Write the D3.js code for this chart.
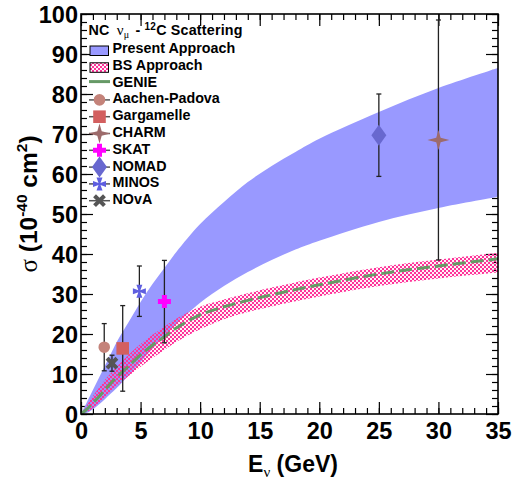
<!DOCTYPE html>
<html>
<head>
<meta charset="utf-8">
<script src="https://cdn.jsdelivr.net/npm/d3@7"></script>
<style>
  html, body { margin: 0; padding: 0; background: #fff; }
  svg { display: block; }
  text { font-family: "Liberation Sans", Arial, sans-serif; font-weight: bold; fill: #000; }
  .sym { font-family: "Liberation Serif", "DejaVu Serif", serif; font-weight: normal; }
</style>
</head>
<body>
<svg id="chart" width="514" height="484"></svg>
<script>
// Theory curves sampled on a common energy grid (GeV), cross sections in 1e-40 cm^2
const energyGrid   = [0, 0.5, 1, 1.5, 2, 2.5, 3, 4, 5, 6, 7, 8, 10, 12, 14, 16, 18, 20, 25, 30, 35];
const presentUpper = [0, 3, 6, 9, 12, 15, 18, 23, 28, 32.5, 36.5, 40.5, 47.5, 53, 58, 62, 65.5, 68.8, 75.5, 81.5, 86.5];
const presentLower = [0, 0.3, 1.2, 2.4, 3.7, 5.1, 6.5, 9.7, 13, 16.3, 19.5, 22.5, 27.8, 32, 35.5, 38.5, 41.1, 43.3, 48, 51.5, 54.3];
const bsUpper      = [0, 2.2, 4.5, 6.5, 8.5, 10.2, 11.8, 14.8, 17.5, 19.8, 21.8, 23.8, 26.8, 28.6, 30.2, 31.6, 32.9, 34.1, 36.7, 38.6, 40.3];
const bsLower      = [0, 0.5, 1.5, 2.8, 4.2, 5.6, 7, 9.5, 11.8, 14, 16, 18, 21.2, 23.7, 25.5, 26.9, 28.2, 29.4, 32, 33.9, 35.4];
const genieSigma   = [0, 1.2, 2.8, 4.3, 6, 7.7, 9.2, 12, 14.8, 17.2, 19.3, 21.5, 24.8, 26.8, 28.4, 29.8, 31.1, 32.3, 35, 37, 38.8];

// Measurements
const expNames  = ["Aachen-Padova", "Gargamelle", "CHARM", "SKAT", "NOMAD", "MINOS", "NOvA"];
const expEnergy = [1.95, 3.5, 30, 7, 25, 4.9, 2.6];
const expSigma  = [16.7, 16.4, 68.5, 28.1, 69.7, 30.7, 12.7];
const expError  = [5.9, 10.7, 30, 10.3, 10.3, 6.3, 2.0];

// Axis ticks
const xMajorTicks = [0, 5, 10, 15, 20, 25, 30, 35];
const yMajorTicks = [0, 10, 20, 30, 40, 50, 60, 70, 80, 90, 100];
const xMinorTicks = d3.range(0, 35.01, 1);
const yMinorTicks = d3.range(0, 100.01, 2);

const svg = d3.select("#chart");
const L = 81, R = 498, T = 14, B = 414;

const x = d3.scaleLinear().domain([0, 35]).range([L, R]);
const y = d3.scaleLinear().domain([0, 100]).range([B, T]);

// Marker styles
const markerStyle = {
  "Aachen-Padova": { color: "#c4837a", shape: "circle" },
  "Gargamelle":    { color: "#d35f5f", shape: "square" },
  "CHARM":         { color: "#9d6b6b", shape: "star4" },
  "SKAT":          { color: "#ff00ff", shape: "plus" },
  "NOMAD":         { color: "#6868cf", shape: "diamond" },
  "MINOS":         { color: "#5f5fe0", shape: "maltese" },
  "NOvA":          { color: "#555555", shape: "xcross" }
};

function markerPath(shape) {
  switch (shape) {
    case "circle":  return d3.symbol(d3.symbolCircle, 105)();
    case "square":  return "M-6.3,-6.3H6.3V6.3H-6.3Z";
    case "star4":   return "M0,-10L2.2,-2.2L11,0L2.2,2.2L0,10L-2.2,2.2L-11,0L-2.2,-2.2Z";
    case "plus":    return "M-2.5,-6.5H2.5V-2.5H6.5V2.5H2.5V6.5H-2.5V2.5H-6.5V-2.5H-2.5Z";
    case "diamond": return "M0,-10.5L7.5,0L0,10.5L-7.5,0Z";
    case "maltese": return "M-1,-1L-3,-6.5L3,-6.5L1,-1L6.5,-3L6.5,3L1,1L3,6.5L-3,6.5L-1,1L-6.5,3L-6.5,-3Z";
    case "xcross":  return "M-2,-7H2V-2H7V2H2V7H-2V2H-7V-2H-2Z";
  }
}
function markerTransform(shape, cx, cy) {
  return shape === "xcross" ? `translate(${cx},${cy}) rotate(45)` : `translate(${cx},${cy})`;
}

// Checkered fill for the BS band
const defs = svg.append("defs");
const pat = defs.append("pattern")
  .attr("id", "bsHatch").attr("patternUnits", "userSpaceOnUse")
  .attr("width", 4).attr("height", 4);
pat.append("path")
  .attr("d", "M0,0H4V4H0Z M0,0H2V2H0Z M2,2H4V4H2Z")
  .attr("fill-rule", "evenodd")
  .attr("fill", "#ff3399");
pat.append("path")
  .attr("d", "M0.6,0.6H1.4V1.4H0.6Z M2.6,2.6H3.4V3.4H2.6Z")
  .attr("fill", "#ff3399").attr("opacity", 0.35);

defs.append("clipPath").attr("id", "plotClip")
  .append("rect").attr("x", L).attr("y", T).attr("width", R - L).attr("height", B - T);

// Ticks (drawn first so the bands cover them)
const axes = svg.append("g");
function tickAxis(axisFn, scale, ticks, size, labels, pad) {
  return axisFn(scale).tickValues(ticks).tickSize(size).tickSizeOuter(0)
    .tickPadding(pad || 0).tickFormat(labels ? d3.format("d") : "");
}
const xAxisG = axes.append("g").attr("transform", `translate(0,${B})`)
  .call(tickAxis(d3.axisBottom, x, xMajorTicks, -12, true, 8));
axes.append("g").attr("transform", `translate(0,${B})`)
  .call(tickAxis(d3.axisBottom, x, xMinorTicks, -6, false));
axes.append("g").attr("transform", `translate(0,${T})`)
  .call(tickAxis(d3.axisTop, x, xMajorTicks, -12, false));
axes.append("g").attr("transform", `translate(0,${T})`)
  .call(tickAxis(d3.axisTop, x, xMinorTicks, -6, false));
const yAxisG = axes.append("g").attr("transform", `translate(${L},0)`)
  .call(tickAxis(d3.axisLeft, y, yMajorTicks, -12, true, 3));
axes.append("g").attr("transform", `translate(${L},0)`)
  .call(tickAxis(d3.axisLeft, y, yMinorTicks, -6, false));
axes.append("g").attr("transform", `translate(${R},0)`)
  .call(tickAxis(d3.axisRight, y, yMajorTicks, -12, false));
axes.append("g").attr("transform", `translate(${R},0)`)
  .call(tickAxis(d3.axisRight, y, yMinorTicks, -6, false));
axes.selectAll(".domain").remove();
axes.selectAll(".tick line").attr("stroke", "#000").attr("stroke-width", 1.2);
[xAxisG, yAxisG].forEach(g => g.selectAll(".tick text")
  .attr("font-size", 23.5).attr("font-weight", "bold")
  .attr("font-family", "Liberation Sans, Arial, sans-serif").attr("fill", "#000"));
yAxisG.selectAll(".tick text").attr("dy", "0.36em");

// Bands and GENIE curve
const plot = svg.append("g").attr("clip-path", "url(#plotClip)");
const idx = d3.range(energyGrid.length);
const curve = d3.curveCatmullRom.alpha(0.5);

const presentArea = d3.area()
  .x(i => x(energyGrid[i])).y0(i => y(presentLower[i])).y1(i => y(presentUpper[i]))
  .curve(curve);
plot.append("path").attr("d", presentArea(idx)).attr("fill", "#9999ff");

const bsArea = d3.area()
  .x(i => x(energyGrid[i])).y0(i => y(bsLower[i])).y1(i => y(bsUpper[i]))
  .curve(curve);
plot.append("path").attr("d", bsArea(idx)).attr("fill", "url(#bsHatch)");

const genieLine = d3.line()
  .x(i => x(energyGrid[i])).y(i => y(genieSigma[i])).curve(curve);
plot.append("path").attr("d", genieLine(idx)).attr("fill", "none")
  .attr("stroke", "#669966").attr("stroke-width", 3).attr("stroke-dasharray", "13,5");

// Error bars and markers
const pts = svg.append("g");
expNames.forEach((name, i) => {
  const cx = x(expEnergy[i]);
  const yTop = y(expSigma[i] + expError[i]);
  const yBot = y(expSigma[i] - expError[i]);
  const g = pts.append("g");
  g.append("line").attr("x1", cx).attr("x2", cx).attr("y1", yTop).attr("y2", yBot)
    .attr("stroke", "#222").attr("stroke-width", 1.3);
  [yTop, yBot].forEach(v => g.append("line")
    .attr("x1", cx - 2.5).attr("x2", cx + 2.5).attr("y1", v).attr("y2", v)
    .attr("stroke", "#222").attr("stroke-width", 1.3));
  const st = markerStyle[name];
  g.append("path").attr("d", markerPath(st.shape))
    .attr("transform", markerTransform(st.shape, cx, y(expSigma[i])))
    .attr("fill", st.color);
});

// Frame
svg.append("rect").attr("x", L).attr("y", T).attr("width", R - L).attr("height", B - T)
  .attr("fill", "none").attr("stroke", "#000").attr("stroke-width", 1.6);

// Legend
const leg = svg.append("g");
const legFont = 14.3;
const legTitle = leg.append("text").attr("x", 88.5).attr("y", 34.7).attr("font-size", legFont)
  .attr("letter-spacing", 0.2);
legTitle.append("tspan").text("NC ");
legTitle.append("tspan").attr("class", "sym").attr("font-size", 15).attr("dx", 3).text("ν");
legTitle.append("tspan").attr("class", "sym").attr("font-size", 10).attr("dy", 3.5).text("μ");
legTitle.append("tspan").attr("dy", -3.5).attr("dx", 2).text(" - ");
legTitle.append("tspan").attr("font-size", 10).attr("dy", -5).text("12");
legTitle.append("tspan").attr("dy", 5).text("C Scattering");

const legendLabels = ["Present Approach", "BS Approach", "GENIE"].concat(expNames);
const rowY = i => 53 + i * 16.8;
legendLabels.forEach((lab, i) => {
  const by = rowY(i);
  const cy = by - 3.5;
  leg.append("text").attr("x", 112.5).attr("y", by).attr("font-size", legFont).text(lab);
  if (i === 0 || i === 1) {
    leg.append("rect").attr("x", 90).attr("y", by - 7).attr("width", 18.5).attr("height", 9.5)
      .attr("fill", i === 0 ? "#9999ff" : "url(#bsHatch)")
      .attr("stroke", "#000").attr("stroke-width", 1);
  } else if (i === 2) {
    leg.append("line").attr("x1", 89).attr("x2", 110).attr("y1", by - 5).attr("y2", by - 5)
      .attr("stroke", "#669966").attr("stroke-width", 3);
  } else {
    const st = markerStyle[lab];
    leg.append("line").attr("x1", 89).attr("x2", 110).attr("y1", cy).attr("y2", cy)
      .attr("stroke", "#555").attr("stroke-width", 1.5);
    leg.append("path").attr("d", markerPath(st.shape))
      .attr("transform", markerTransform(st.shape, 99.5, cy))
      .attr("fill", st.color);
  }
});

// Axis titles
const xt = svg.append("text").attr("x", 293).attr("y", 472).attr("text-anchor", "middle").attr("font-size", 23);
xt.append("tspan").text("E");
xt.append("tspan").attr("class", "sym").attr("font-size", 15).attr("dy", 5).text("ν");
xt.append("tspan").attr("dy", -5).text(" (GeV)");

const yt = svg.append("text").attr("transform", "translate(37,204) rotate(-90)")
  .attr("text-anchor", "middle").attr("font-size", 24.5);
yt.append("tspan").attr("class", "sym").attr("font-size", 25).text("σ");
yt.append("tspan").text(" (10");
yt.append("tspan").attr("font-size", 15.5).attr("dy", -10).text("-40");
yt.append("tspan").attr("dy", 10).text(" cm");
yt.append("tspan").attr("font-size", 15.5).attr("dy", -10).text("2");
yt.append("tspan").attr("dy", 10).text(")");
</script>
</body>
</html>
